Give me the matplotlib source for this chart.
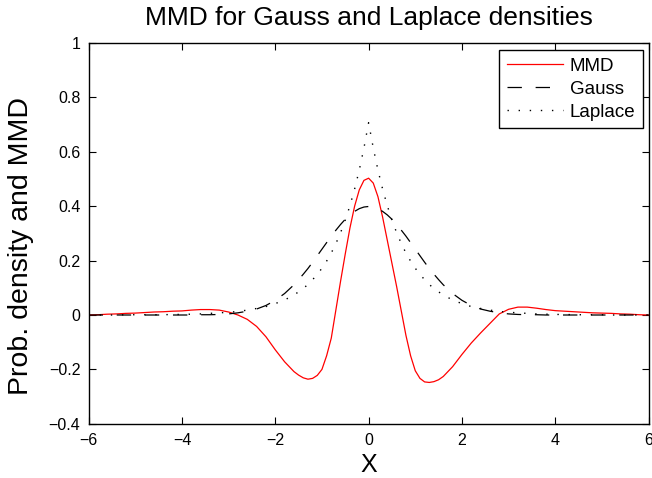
import numpy as np
import matplotlib.pyplot as plt

plt.rcParams['font.family'] = ['Liberation Sans', 'DejaVu Sans']

# sample grid: 0.2 steps in the tails, 0.1 steps in the middle
x = np.round(np.r_[np.arange(-6.0, -1.79, 0.2),
                   np.arange(-1.6, 1.61, 0.1),
                   np.arange(1.8, 6.01, 0.2)], 1)

mmd = [0.000, 0.001, 0.003, 0.004, 0.006, 0.007, 0.009, 0.011, 0.012, 0.014, 0.015,
       0.018, 0.020, 0.020, 0.018, 0.011, 0.000, -0.016, -0.042, -0.080, -0.128, -0.172,
       # -1.6 .. 1.6
       -0.208, -0.221, -0.231, -0.236, -0.233, -0.222, -0.200, -0.150, -0.085, 0.020,
       0.125, 0.225, 0.320, 0.400, 0.460, 0.495, 0.503, 0.485, 0.435, 0.360,
       0.275, 0.190, 0.105, 0.015, -0.075, -0.150, -0.205, -0.233, -0.246, -0.248,
       -0.245, -0.238, -0.226,
       # 1.8 .. 6
       -0.190, -0.145, -0.103, -0.066, -0.031, 0.004, 0.021, 0.029, 0.029, 0.025, 0.020,
       0.016, 0.014, 0.012, 0.010, 0.008, 0.007, 0.006, 0.004, 0.003, 0.001, 0.000]

gauss = [0.000, 0.000, 0.000, 0.000, 0.000, 0.000, 0.000, 0.000, 0.000, 0.000, 0.000,
         0.000, 0.001, 0.001, 0.002, 0.004, 0.008, 0.014, 0.022, 0.035, 0.054, 0.079,
         0.111, 0.130, 0.150, 0.171, 0.194, 0.218, 0.242, 0.266, 0.290, 0.312,
         0.333, 0.352, 0.368, 0.381, 0.391, 0.397, 0.399, 0.397, 0.391, 0.381,
         0.368, 0.352, 0.333, 0.312, 0.290, 0.266, 0.242, 0.218, 0.194, 0.171,
         0.150, 0.130, 0.111,
         0.079, 0.054, 0.035, 0.022, 0.014, 0.008, 0.004, 0.002, 0.001, 0.001, 0.000,
         0.000, 0.000, 0.000, 0.000, 0.000, 0.000, 0.000, 0.000, 0.000, 0.000, 0.000]

laplace = [0.000, 0.000, 0.000, 0.000, 0.001, 0.001, 0.001, 0.001, 0.001, 0.002, 0.002,
           0.003, 0.004, 0.006, 0.008, 0.010, 0.013, 0.018, 0.024, 0.031, 0.042, 0.055,
           0.074, 0.085, 0.098, 0.112, 0.130, 0.149, 0.172, 0.198, 0.228, 0.263,
           0.303, 0.349, 0.402, 0.463, 0.533, 0.614, 0.707, 0.614, 0.533, 0.463,
           0.402, 0.349, 0.303, 0.263, 0.228, 0.198, 0.172, 0.149, 0.130, 0.112,
           0.098, 0.085, 0.074,
           0.055, 0.042, 0.031, 0.024, 0.018, 0.013, 0.010, 0.008, 0.006, 0.004, 0.003,
           0.002, 0.002, 0.001, 0.001, 0.001, 0.001, 0.000, 0.000, 0.000, 0.000, 0.000]

xticks = [-6, -4, -2, 0, 2, 4, 6]
yticks = [-0.4, -0.2, 0, 0.2, 0.4, 0.6, 0.8, 1]
ytick_labels = ['\u22120.4', '\u22120.2', '0', '0.2', '0.4', '0.6', '0.8', '1']

fig = plt.figure(figsize=(6.52, 4.78), dpi=100)
ax = fig.add_axes([0.1359, 0.1134, 0.8589, 0.7966])

ax.plot(x, mmd, color='red', lw=0.9, label='MMD')
ax.plot(x, gauss, color='black', lw=0.9, ls=(0, (11.5, 11)), label='Gauss')
ax.plot(x, laplace, color='black', lw=1.0, ls=(0, (1, 7)), label='Laplace')

ax.set_xlim(-6, 6)
ax.set_ylim(-0.4, 1)
ax.set_xticks(xticks)
ax.set_yticks(yticks)
ax.set_yticklabels(ytick_labels)
ax.tick_params(direction='in', top=True, right=True, length=5, width=0.8,
               labelsize=11.5)
ax.tick_params(axis='x', pad=6.5)
ax.tick_params(axis='y', pad=6)
for s in ax.spines.values():
    s.set_linewidth(1.0)

ax.set_title('MMD for Gauss and Laplace densities', fontsize=19, pad=13)
ax.set_xlabel('X', fontsize=18, labelpad=3.5)
ax.set_ylabel('Prob. density and MMD', fontsize=20.5)
ax.yaxis.set_label_coords(-0.098, 0.467)

leg = ax.legend(loc='upper right', bbox_to_anchor=(0.9895, 0.9816),
                borderaxespad=0, fontsize=13.5, fancybox=False, framealpha=1,
                edgecolor='black', handlelength=3.0, handletextpad=0.35,
                labelspacing=0.32, borderpad=0.4)
leg.get_frame().set_linewidth(1.0)

fig.savefig('out.png', dpi=100)
